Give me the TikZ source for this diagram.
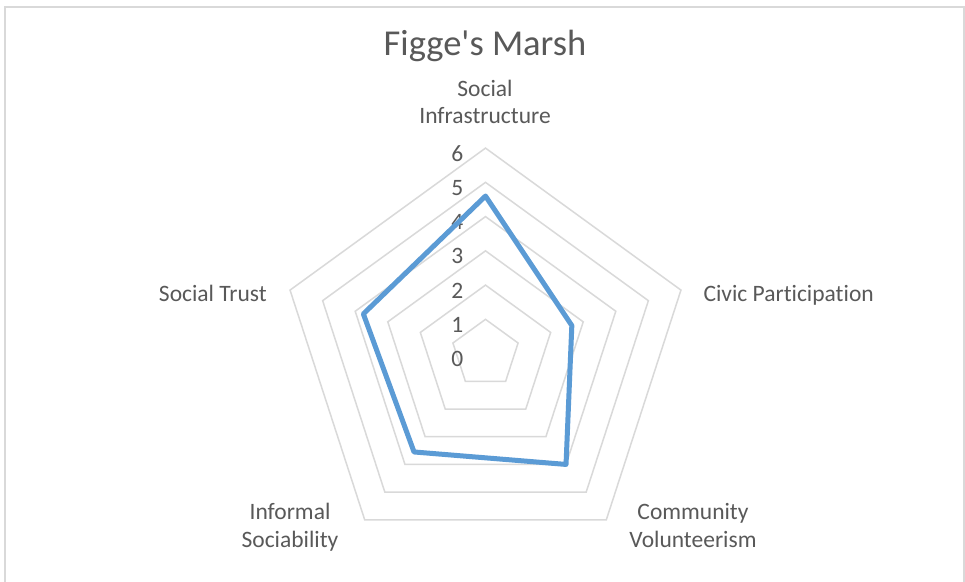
\documentclass[tikz,border=0pt]{standalone}
\usepackage{fontspec}
\setmainfont{Carlito}[Ligatures={NoCommon}]
\usetikzlibrary{calc}
\definecolor{gridgray}{HTML}{D9D9D9}
\definecolor{txtgray}{HTML}{595959}
\definecolor{seriesblue}{HTML}{5B9BD5}
\begin{document}
\begin{tikzpicture}[x=1pt,y=1pt,
  grid/.style={draw=gridgray,line width=1.5pt},
  series/.style={draw=seriesblue,line width=5pt,line join=round},
  lbl/.style={text=txtgray,font=\fontsize{23.5}{28}\selectfont,inner sep=0pt},
  ttl/.style={text=txtgray,font=\fontsize{36.5}{42}\selectfont,inner sep=0pt},
  tick/.style={text=txtgray,font=\fontsize{23.5}{28}\selectfont,inner sep=0pt,anchor=east}]
\useasboundingbox (0,0) rectangle (965,581);
\fill[white] (0,0) rectangle (965,581);
% chart border
\draw[draw=gridgray,line width=1.5pt] (5,-2) -- (5,574) -- (964,574) -- (964,-2);
\coordinate (c) at (485.5,227.4);
\def\u{34.25}
% grid pentagons
\foreach \k in {1,...,6}{
  \draw[grid] ($(c)+(90:\k*\u)$) -- ($(c)+(18:\k*\u)$) -- ($(c)+(-54:\k*\u)$) -- ($(c)+(-126:\k*\u)$) -- ($(c)+(162:\k*\u)$) -- cycle;
}
% tick labels
\foreach \k in {0,...,6}{
  \node[tick] (t\k) at ($(c)+(-22,{\k*\u-5.5})$) {\k};
}
% data series
\coordinate (p1) at ($(c)+(90:4.6*\u)$);
\coordinate (p2) at ($(c)+(18:2.65*\u)$);
\coordinate (p3) at ($(c)+(-54:4.0*\u)$);
\coordinate (p4) at ($(c)+(-126:3.55*\u)$);
\coordinate (p5) at ($(c)+(162:3.75*\u)$);
\draw[series] (p1) -- (p2) -- (p3) -- (p4) -- (p5) -- cycle;
% title
\node[ttl,anchor=base] (title) at (485,525) {Figge\textquotesingle s Marsh};
% axis labels
\node[lbl,anchor=base] (si1) at (485,484) {Social};
\node[lbl,anchor=base] (si2) at (485,457) {Infrastructure};
\node[lbl,anchor=base east] (st) at (267,279.3) {Social Trust};
\node[lbl,anchor=base west] (cp) at (703.3,279.3) {Civic Participation};
\node[lbl,anchor=base] (is1) at (290,62) {Informal};
\node[lbl,anchor=base] (is2) at (290,34) {Sociability};
\node[lbl,anchor=base] (cv1) at (693,62) {Community};
\node[lbl,anchor=base] (cv2) at (693,34) {Volunteerism};
\end{tikzpicture}
\end{document}
